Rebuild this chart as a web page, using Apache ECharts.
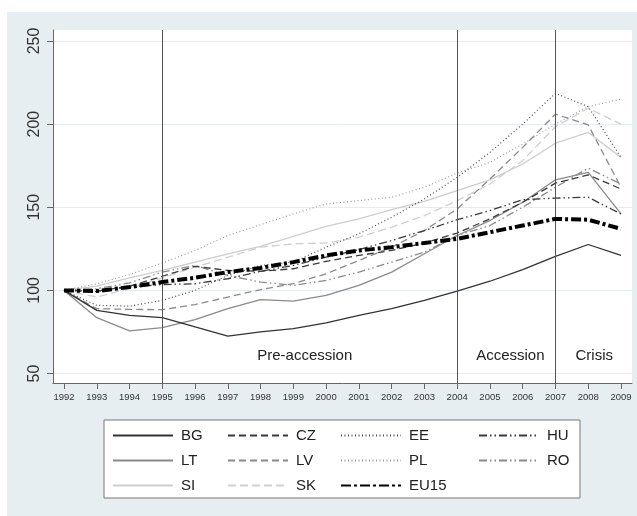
<!DOCTYPE html>
<html>
<head>
<meta charset="utf-8">
<script src="https://cdn.jsdelivr.net/npm/echarts@6/dist/echarts.min.js"></script>
<style>
html,body{margin:0;padding:0;background:#fff;}
#chart{width:637px;height:516px;}
</style>
</head>
<body>
<div id="chart"></div>
<script>
const years = [1992,1993,1994,1995,1996,1997,1998,1999,2000,2001,2002,2003,2004,2005,2006,2007,2008,2009];
const yTicks = [50,100,150,200,250];
const BG   = [100, 88, 85, 83.6, 78, 72.5, 75, 77, 80.5, 85, 89, 94, 99.5, 105.5, 112.5, 120.5, 127.6, 121];
const CZ   = [100, 99.5, 102.5, 108.5, 114.5, 112, 111.5, 113, 117.5, 121, 124, 128.5, 134.5, 143, 153, 164.5, 169.5, 161];
const EE   = [100, 91, 90.5, 94, 100, 109, 115, 117, 126, 134, 144, 155, 168, 183, 200, 218.5, 210.5, 180];
const HU   = [100, 99.3, 102, 103.5, 104, 107, 111.5, 115, 120, 124.5, 130, 136, 142.5, 148, 154.5, 155.5, 156, 146];
const LT   = [100, 83.6, 75.7, 77.6, 82.4, 89, 94.5, 93.6, 97, 103, 111, 122, 133, 142, 153, 166.5, 171, 146];
const LV   = [100, 89, 88.6, 88.4, 91.5, 96, 100.5, 104, 110, 118, 126, 136, 149, 167, 186, 206, 199.5, 162];
const PL   = [100, 104, 109.5, 116.5, 124, 133, 139.5, 146, 152, 154, 156, 162, 170.5, 177, 188, 200, 210.5, 215];
const RO   = [100, 101, 104.5, 111, 115, 109, 105, 103, 106, 111, 117, 123, 133, 139, 150, 162, 173.5, 164];
const SI   = [100, 102.5, 107.5, 112, 117, 122, 126.5, 132.5, 138.5, 143, 148.5, 153.5, 160, 166.5, 176, 188.5, 195, 180];
const SK   = [100, 96, 101, 107.5, 114, 120, 126, 128, 128.5, 132, 138, 145, 154, 164, 178, 198.5, 209.5, 200];
const EU15 = [100, 99.6, 102, 105, 107.6, 111, 113.5, 117, 121, 124, 126, 128.5, 131, 135, 139, 143, 142.5, 137];
const eventYears = [1995, 2004, 2007];
const phases = [
  {name:'Pre-accession', from:1995, to:2004, shift:-5},
  {name:'Accession', from:2004, to:2007, shift:4},
  {name:'Crisis', from:2007, to:2009, shift:6}
];

const pair = arr => years.map((y,i)=>[y, arr[i]]);
const FONT = '"Liberation Sans", Arial, Helvetica, sans-serif';

const styles = {
  SI:   {color:'#cdcdcd', width:1.3, type:'solid'},
  SK:   {color:'#d0d0d0', width:1.3, type:[8,4]},
  PL:   {color:'#9a9a9a', width:1.2, type:[1,2.5]},
  LV:   {color:'#8a8a8a', width:1.3, type:[7,4]},
  RO:   {color:'#8a8a8a', width:1.3, type:[8,3,1.5,3,1.5,3]},
  LT:   {color:'#8a8a8a', width:1.3, type:'solid'},
  EE:   {color:'#4a4a4a', width:1.2, type:[1,2.5]},
  HU:   {color:'#3a3a3a', width:1.3, type:[8,3,1.5,3,1.5,3]},
  CZ:   {color:'#3a3a3a', width:1.3, type:[7,4]},
  BG:   {color:'#333333', width:1.3, type:'solid'},
  EU15: {color:'#000000', width:4, type:[10,3,3,3]}
};
const dataMap = {BG, CZ, EE, HU, LT, LV, PL, RO, SI, SK, EU15};
const order = ['SI','SK','PL','LV','RO','LT','EE','HU','CZ','BG','EU15'];

const series = order.map(name => ({
  name, type:'line', data: pair(dataMap[name]), symbol:'none', showSymbol:false,
  lineStyle: styles[name], itemStyle:{color: styles[name].color}, z: name==='EU15'?5:3
}));

series.push({
  name:'_events', type:'line', data:[], symbol:'none',
  markLine:{silent:true, symbol:'none', label:{show:false},
    lineStyle:{color:'#555', width:1, type:'solid'},
    data: eventYears.map(y=>({xAxis:y}))},
  markArea:{silent:true, itemStyle:{color:'rgba(0,0,0,0)'},
    label:{show:true, position:'insideBottom', distance:20, fontSize:15, color:'#222', fontFamily:FONT},
    data: phases.map(p=>[{xAxis:p.from, name:p.name, label:{offset:[p.shift,0]}}, {xAxis:p.to}])}
});

const legendCommon = {
  orient:'vertical', itemWidth:60, itemHeight:14, itemGap:10, padding:0,
  itemStyle:{opacity:0},
  textStyle:{fontSize:15, color:'#222', fontFamily:FONT, padding:[0,0,0,3]},
  selectedMode:false, top:428
};

const option = {
  backgroundColor:'#fff',
  animation:false,
  textStyle:{fontFamily:FONT},
  graphic:[
    {type:'rect', z:-100, shape:{x:7,y:12,width:630,height:504}, style:{fill:'#e7eef2'}},
    {type:'rect', z:-50, shape:{x:104,y:420,width:476,height:78}, style:{fill:'#fff', stroke:'#777', lineWidth:1}}
  ],
  grid:{left:53, top:30, right:5, bottom:133, show:true, backgroundColor:'#fff', borderWidth:0},
  xAxis:{type:'value', min:1991.664, max:2009.336,
    axisLine:{show:true, onZero:false, lineStyle:{color:'#666'}},
    axisTick:{show:true, length:6, customValues:years, lineStyle:{color:'#666'}},
    axisLabel:{customValues:years, fontSize:9.5, color:'#333', margin:9, formatter:v=>String(v)},
    splitLine:{show:false}},
  yAxis:{type:'value', min:44.3, max:256.6,
    axisLine:{show:true, onZero:false, lineStyle:{color:'#666'}},
    axisTick:{show:true, length:6, customValues:yTicks, lineStyle:{color:'#666'}},
    axisLabel:{customValues:yTicks, rotate:90, fontSize:16, color:'#333', margin:10},
    splitLine:{show:true, lineStyle:{color:'#e3ecef', width:1}}},
  legend:[
    Object.assign({}, legendCommon, {left:112, data:['BG','LT','SI']}),
    Object.assign({}, legendCommon, {left:227, data:['CZ','LV','SK']}),
    Object.assign({}, legendCommon, {left:340, data:['EE','PL','EU15']}),
    Object.assign({}, legendCommon, {left:478, data:['HU','RO']})
  ],
  series
};

const chart = echarts.init(document.getElementById('chart'), null, {renderer:'canvas'});
chart.setOption(option);
</script>
</body>
</html>
